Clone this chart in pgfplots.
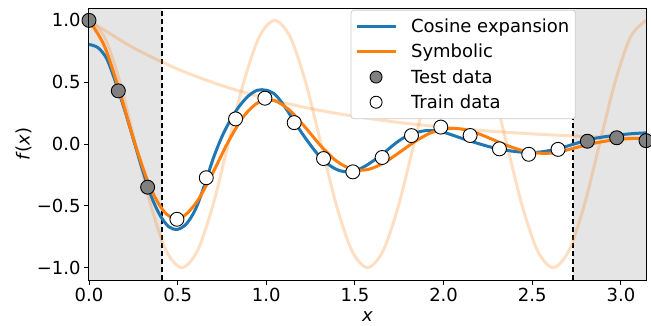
\documentclass[border=0pt]{standalone}
\usepackage{fontspec}
\setmainfont{DejaVu Sans}
\usepackage{pgfplots}
\pgfplotsset{compat=1.18}
\definecolor{mplblue}{HTML}{1F77B4}
\definecolor{mplorange}{HTML}{FF7F0E}
\definecolor{spangray}{HTML}{E5E5E5}
\definecolor{testgray}{HTML}{808080}
\definecolor{legfill}{HTML}{FFFFFF}
\pgfplotsset{
  lineleg/.style={legend image code/.code={\draw[##1] (0pt,0pt) -- (39pt,0pt);}},
  markleg/.style={legend image code/.code={\draw[##1, mark size=6pt] plot coordinates {(19.5pt,0pt)};}},
}
\begin{document}
\begin{tikzpicture}
\begin{axis}[
  name=ax,
  at={(0,0)}, anchor=south west,
  width=557pt, height=272pt, scale only axis,
  xmin=0, xmax=3.14159, ymin=-1.1, ymax=1.1,
  xtick={0,0.5,1,1.5,2,2.5,3},
  xticklabels={0.0,0.5,1.0,1.5,2.0,2.5,3.0},
  ytick={-1,-0.5,0,0.5,1},
  yticklabels={−1.0,−0.5,0.0,0.5,1.0},
  tick align=outside, xtick pos=bottom, ytick pos=left,
  major tick length=5pt,
  major tick style={black, line width=0.9pt},
  axis line style={black, line width=0.9pt},
  ticklabel style={font=\fontsize{18}{21}\selectfont},
  label style={font=\fontsize{18}{21}\selectfont},
  xlabel={\textit{x}},
  ylabel={\textit{f}(\textit{x})},
  xlabel style={at={(axis description cs:0.5,-0.136)}, anchor=center},
  ylabel style={at={(axis description cs:-0.1167,0.5)}, anchor=center},
  legend cell align=left,
  legend style={
    at={(axis description cs:0.4698,0.9937)}, anchor=north west,
    draw=black!20, line width=0.8pt, rounded corners=3pt,
    fill=legfill,
    font=\fontsize{18}{21}\selectfont,
    inner xsep=4pt, inner ysep=7pt,
    row sep=6pt, column sep=12pt,
  },
]
% shaded test regions
\addplot[draw=none, fill=spangray, forget plot] coordinates {(0,-1.1) (0.4134,-1.1) (0.4134,1.1) (0,1.1)} -- cycle;
\addplot[draw=none, fill=spangray, forget plot] coordinates {(2.7282,-1.1) (3.14159,-1.1) (3.14159,1.1) (2.7282,1.1)} -- cycle;
% dashed boundaries
\addplot[black, line width=1.6pt, dash pattern=on 5.5pt off 2.5pt, forget plot] coordinates {(0.4134,-1.1) (0.4134,1.1)};
\addplot[black, line width=1.6pt, dash pattern=on 5.5pt off 2.5pt, forget plot] coordinates {(2.7282,-1.1) (2.7282,1.1)};
% faint components
\addplot[mplorange, draw opacity=0.25, line width=3pt, smooth, forget plot] coordinates {
(0,1) (0.08727,0.8660) (0.17453,0.5) (0.26180,0) (0.34907,-0.5) (0.43633,-0.8660) (0.52360,-1) (0.61087,-0.8660) (0.69813,-0.5) (0.78540,0) (0.87266,0.5) (0.95993,0.8660) (1.04720,1) (1.13446,0.8660) (1.22173,0.5) (1.30900,0) (1.39626,-0.5) (1.48353,-0.8660) (1.57080,-1) (1.65806,-0.8660) (1.74533,-0.5) (1.83260,0) (1.91986,0.5) (2.00713,0.8660) (2.09440,1) (2.18166,0.8660) (2.26893,0.5) (2.35619,0) (2.44346,-0.5) (2.53073,-0.8660) (2.61799,-1) (2.70526,-0.8660) (2.79253,-0.5) (2.87979,0) (2.96706,0.5) (3.05433,0.8660) (3.14159,1)};
\addplot[mplorange, draw opacity=0.25, line width=3pt, smooth, forget plot] coordinates {
(0,1) (0.25,0.7788) (0.5,0.6065) (0.75,0.4724) (1.0,0.3679) (1.25,0.2865) (1.5,0.2231) (1.75,0.1738) (2.0,0.1353) (2.25,0.1054) (2.5,0.0821) (2.75,0.0639) (3.0,0.0498) (3.14159,0.0432)};
% cosine expansion
\addplot[mplblue, line width=3pt, smooth, line join=round, lineleg] coordinates {
(0,0.805) (0.05,0.78) (0.10,0.69) (0.15,0.50) (0.20,0.28) (0.25,0.04) (0.30,-0.20) (0.35,-0.42) (0.40,-0.575) (0.45,-0.67) (0.50,-0.69) (0.55,-0.645) (0.60,-0.53) (0.65,-0.34) (0.70,-0.12) (0.75,0.06) (0.80,0.20) (0.85,0.31) (0.90,0.39) (0.95,0.435) (1.00,0.435) (1.05,0.40) (1.10,0.31) (1.15,0.20) (1.20,0.09) (1.25,-0.01) (1.30,-0.10) (1.35,-0.165) (1.40,-0.208) (1.45,-0.225) (1.50,-0.217) (1.55,-0.185) (1.60,-0.14) (1.65,-0.088) (1.70,-0.028) (1.75,0.028) (1.80,0.07) (1.85,0.095) (1.90,0.108) (1.95,0.107) (2.00,0.095) (2.05,0.072) (2.10,0.047) (2.15,0.024) (2.20,0.002) (2.25,-0.019) (2.30,-0.037) (2.35,-0.05) (2.40,-0.06) (2.45,-0.067) (2.50,-0.069) (2.55,-0.064) (2.60,-0.052) (2.65,-0.036) (2.70,-0.016) (2.75,0.006) (2.80,0.028) (2.85,0.045) (2.90,0.057) (2.95,0.067) (3.00,0.075) (3.05,0.082) (3.10,0.087) (3.14159,0.09)};
\addlegendentry{Cosine expansion}
% symbolic
\addplot[mplorange, line width=3pt, smooth, line join=round, lineleg] coordinates {
(0,1.0) (0.08727,0.7916) (0.17453,0.4135) (0.26180,-0.0101) (0.34907,-0.3633) (0.43633,-0.5667) (0.52360,-0.5922) (0.61087,-0.4617) (0.69813,-0.2336) (0.78540,0.0179) (0.87266,0.2245) (0.95993,0.3405) (1.04720,0.3505) (1.13446,0.2690) (1.22173,0.1315) (1.30900,-0.0177) (1.39626,-0.1384) (1.48353,-0.2043) (1.57080,-0.2072) (1.65806,-0.1565) (1.74533,-0.0738) (1.83260,0.0146) (1.91986,0.0851) (2.00713,0.1225) (2.09440,0.1225) (2.18166,0.0910) (2.26893,0.0412) (2.35619,-0.0111) (2.44346,-0.0523) (2.53073,-0.0734) (2.61799,-0.0723) (2.70526,-0.045) (2.79253,-0.012) (2.87979,0.015) (2.96706,0.034) (3.05433,0.044) (3.14159,0.045)};
\addlegendentry{Symbolic}
% test data
\addplot[only marks, mark=*, mark size=7pt, mark options={fill=testgray, draw=black, line width=0.9pt}, markleg] coordinates {
(0,1) (0.16535,0.43) (0.33069,-0.3492) (2.8109,0.0225) (2.97624,0.0504) (3.14159,0.0272)};
\addlegendentry{Test data}
% train data
\addplot[only marks, mark=*, mark size=7pt, mark options={fill=white, draw=black, line width=0.9pt}, markleg] coordinates {
(0.49604,-0.6089) (0.66139,-0.2729) (0.82673,0.2032) (0.99208,0.3704) (1.15743,0.1728) (1.32278,-0.1177) (1.48812,-0.2252) (1.65347,-0.1091) (1.81882,0.0679) (1.98416,0.1368) (2.14951,0.0688) (2.31486,-0.0392) (2.4802,-0.0831) (2.64555,-0.0433)};
\addlegendentry{Train data}
\end{axis}
\draw[black, line width=1pt] (ax.south west) -- (ax.north west) -- (ax.north east) -- (ax.south east) -- cycle;
\pgfresetboundingbox
\path[use as bounding box] (-89pt,-45pt) rectangle (562pt,280pt);
\end{tikzpicture}
\end{document}
